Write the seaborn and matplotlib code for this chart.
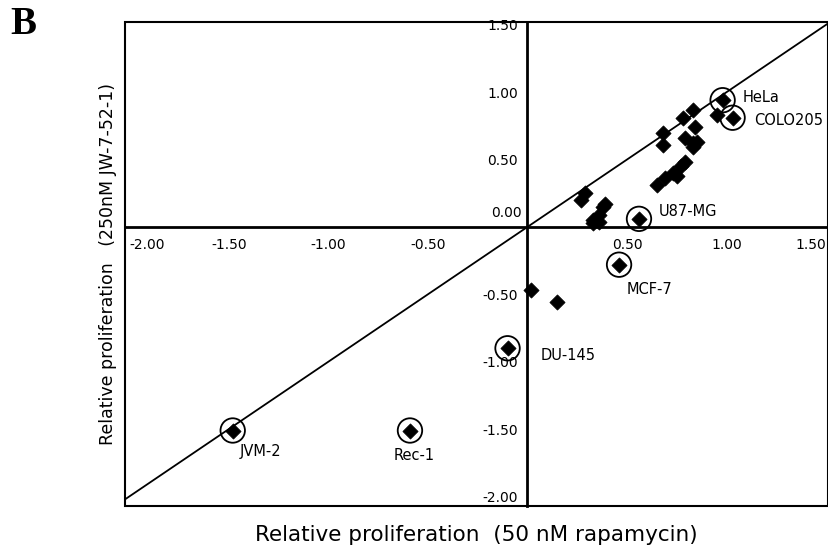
import numpy as np
import pandas as pd
import matplotlib
matplotlib.use("Agg")
import matplotlib.pyplot as plt
from matplotlib.patches import Rectangle
import seaborn as sns

# --- data: relative proliferation (rapamycin vs JW-7-52-1) ---
x_rapa = [0.27, 0.29, 0.38, 0.36, 0.33, 0.33, 0.36, 0.39,
          0.65, 0.69, 0.73, 0.77, 0.79, 0.75, 0.68, 0.83, 0.85,
          0.68, 0.78, 0.83, 0.84, 0.79, 0.83, 0.95,
          0.02, 0.15]
y_jw = [0.20, 0.25, 0.15, 0.09, 0.05, 0.03, 0.04, 0.17,
        0.31, 0.36, 0.40, 0.45, 0.48, 0.38, 0.61, 0.59, 0.63,
        0.70, 0.81, 0.87, 0.74, 0.66, 0.62, 0.83,
        -0.47, -0.56]

labels = ["HeLa", "COLO205", "U87-MG", "MCF-7", "DU-145", "JVM-2", "Rec-1"]
lab_x = [0.98, 1.03, 0.56, 0.46, -0.10, -1.48, -0.59]
lab_y = [0.94, 0.81, 0.06, -0.28, -0.90, -1.51, -1.51]
# label offsets in pixels + alignment
lab_off = [(20, 3), (22, -3), (20, 7), (8, -25), (33, -7), (7, -21), (4, -25)]
lab_ha = ["left", "left", "left", "left", "left", "left", "center"]

xticks = [-2.0, -1.5, -1.0, -0.5, 0.0, 0.5, 1.0, 1.5]
yticks = [-2.0, -1.5, -1.0, -0.5, 0.0, 0.5, 1.0, 1.5]

df = pd.DataFrame({"x": x_rapa + lab_x, "y": y_jw + lab_y})
df_lab = pd.DataFrame({"x": lab_x, "y": lab_y, "name": labels})

sns.set_style("white")
plt.rcParams["font.family"] = ["DejaVu Sans"]
plt.rcParams["text.color"] = "black"

fig = plt.figure(figsize=(8.29, 5.5), dpi=100)
ax = fig.add_axes([0.151, 0.08, 0.848, 0.88])

xlim = (-2.02, 1.51)
ylim = (-2.07, 1.52)

# diagonal y = x
ax.plot([-2.2, 1.7], [-2.2, 1.7], color="black", lw=1.3, zorder=1)

sns.scatterplot(data=df, x="x", y="y", marker="D", s=60, color="black",
                edgecolor="black", linewidth=0.5, ax=ax, zorder=3)
sns.scatterplot(data=df_lab, x="x", y="y", marker="o", s=310,
                facecolor="none", edgecolor="black", linewidth=1.3,
                ax=ax, zorder=4)

for name, px, py, off, ha in zip(labels, lab_x, lab_y, lab_off, lab_ha):
    ax.annotate(name, (px, py), xytext=off, textcoords="offset pixels",
                ha=ha, va="center", fontsize=10.5, color="black")

ax.set_xlim(*xlim)
ax.set_ylim(*ylim)

# crossing axes through origin
ax.spines["left"].set_position(("data", 0))
ax.spines["bottom"].set_position(("data", 0))
ax.spines["top"].set_visible(False)
ax.spines["right"].set_visible(False)
for s in ("left", "bottom"):
    ax.spines[s].set_linewidth(2.0)
    ax.spines[s].set_color("black")

ax.set_xticks(xticks)
ax.set_yticks(yticks)
ax.set_xticklabels(["" if t == 0 else f"{t:.2f}" for t in xticks])
ax.set_yticklabels(["" if t == 0 else f"{t:.2f}" for t in yticks])
ax.tick_params(axis="both", direction="out", length=4, width=1.5,
               labelsize=10, colors="black", pad=3)
ax.tick_params(axis="x", pad=4)
# keep end labels inside the frame
xt = ax.get_xticklabels()
xt[0].set_ha("left")
xt[-1].set_ha("right")
ax.text(-0.03, 0.05, "0.00", ha="right", va="bottom", fontsize=10)

# outer frame
ax.add_patch(Rectangle((0, 0), 1, 1, transform=ax.transAxes, fill=False,
                       lw=1.5, edgecolor="black", clip_on=False, zorder=5))

ax.set_xlabel("Relative proliferation  (50 nM rapamycin)", fontsize=15.5,
              color="black")
ax.set_ylabel("Relative proliferation   (250nM JW-7-52-1)", fontsize=12.5,
              color="black")
ax.xaxis.set_label_coords(0.5, -0.04)
ax.yaxis.set_label_coords(-0.012, 0.5)

fig.text(0.012, 0.955, "B", fontsize=28, fontweight="bold",
         family=["Liberation Serif", "DejaVu Serif"], va="center")

fig.savefig("out.png", dpi=100)
